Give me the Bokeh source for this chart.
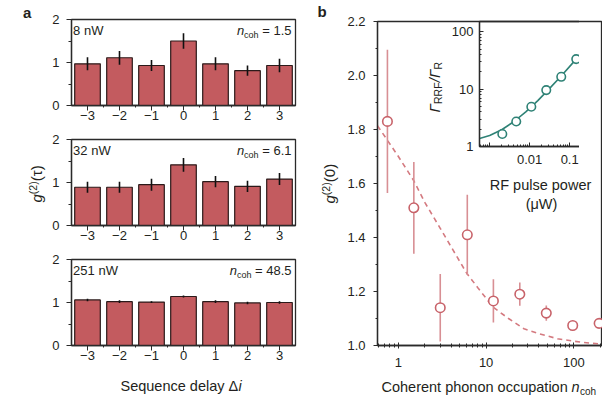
import numpy as np
from bokeh.plotting import figure
from bokeh.models import Range1d, FixedTicker, Label
from bokeh.layouts import row, column
from bokeh.embed import file_html
from bokeh.resources import INLINE

FONT = "Liberation Sans"
TXT = "#231f20"
AXC = "#2a2a2a"
BAR = "#c35b5f"

# ---------------- panel a data ----------------
delays = [-3, -2, -1, 0, 1, 2, 3]
delay_labels = ["\u22123", "\u22122", "\u22121", "0", "1", "2", "3"]
powers = ["8 nW", "32 nW", "251 nW"]
ncoh_texts = ["1.5", "6.1", "48.5"]
g2_8nW = [0.97, 1.11, 0.93, 1.50, 0.97, 0.81, 0.93]
err_8nW = [0.15, 0.16, 0.13, 0.18, 0.15, 0.12, 0.155]
g2_32nW = [0.89, 0.89, 0.95, 1.41, 1.02, 0.91, 1.08]
err_32nW = [0.13, 0.13, 0.14, 0.16, 0.13, 0.13, 0.14]
g2_251nW = [1.06, 1.02, 1.01, 1.14, 1.02, 0.99, 1.00]
err_251nW = [0.03, 0.03, 0.02, 0.025, 0.03, 0.03, 0.03]

# ---------------- panel b data ----------------
n_coh = [0.75, 1.5, 3.0, 6.1, 12.1, 24.2, 48.5, 97.0, 194.0]
g2_zero = [1.83, 1.51, 1.14, 1.41, 1.165, 1.19, 1.12, 1.074, 1.082]
g2_zero_err = [0.265, 0.17, 0.125, 0.148, 0.08, 0.043, 0.028, 0.018, 0.012]
theory_n = [0.578, 0.75, 1.0, 1.5, 2.0, 3.0, 4.0, 6.0, 8.0, 12.0, 18.0, 27.0, 40.0, 65.0, 100.0, 150.0, 212.0]
theory_g2 = [1.814, 1.76, 1.70, 1.61, 1.53, 1.434, 1.365, 1.268, 1.215, 1.142, 1.100, 1.062, 1.044, 1.025, 1.016, 1.009, 1.005]

# inset
rf_power = [0.00207, 0.00462, 0.0110, 0.0260, 0.0616, 0.146, 0.335]
rate_ratio = [1.65, 2.73, 4.92, 9.62, 16.4, 33.4, 55.4]
fit_power = [0.00056, 0.001, 0.002, 0.004, 0.008, 0.016, 0.032, 0.064, 0.128, 0.256, 0.5, 0.75]
fit_ratio = [1.38, 1.55, 1.96, 2.70, 4.01, 6.31, 10.4, 17.5, 30.2, 52.6, 90.3, 125.5]

CW = {" ": .278, "=": .584, ".": .278, "c": .5, "o": .556, "h": .556}


def tw(s, size):
    return sum(CW.get(ch, .556) for ch in s) * size


def lab(p, x, y, text, size="13px", style="normal", align="left", xo=0, yo=0, angle=0, color=TXT):
    p.add_layout(Label(x=x, y=y, text=text, text_font=FONT, text_font_size=size,
                       text_font_style=style, text_align=align, text_baseline="middle",
                       x_offset=xo, y_offset=yo, angle=angle, text_color=color))


def style_axis(ax, size="13px"):
    ax.axis_line_color = AXC
    ax.axis_line_width = 1.3
    ax.major_tick_line_color = AXC
    ax.minor_tick_line_color = AXC
    ax.major_label_text_font = FONT
    ax.major_label_text_font_size = size
    ax.major_label_text_color = TXT


def clear(p):
    p.xgrid.visible = False
    p.ygrid.visible = False
    p.border_fill_alpha = 0
    p.background_fill_alpha = 0
    p.outline_line_color = AXC
    p.outline_line_width = 1.3
    p.outline_line_alpha = 1


def bar_panel(vals, errs, power, ncoh, top_b, bot_b):
    p = figure(frame_width=224, frame_height=86, min_border_left=71, min_border_right=2,
               min_border_top=top_b, min_border_bottom=bot_b,
               x_range=Range1d(-3.5, 3.5), y_range=Range1d(0, 2),
               output_backend="svg", toolbar_location=None)
    clear(p)
    p.vbar(x=delays, top=vals, bottom=0, width=0.8, fill_color=BAR,
           line_color="#2b1a1a", line_width=1.2)
    v = np.array(vals)
    e = np.array(errs)
    p.segment(x0=delays, y0=v - e, x1=delays, y1=v + e, line_color="#111111", line_width=1.6)

    xa = p.xaxis[0]
    style_axis(xa)
    xa.ticker = FixedTicker(ticks=delays, minor_ticks=[-2.5, -1.5, -0.5, 0.5, 1.5, 2.5])
    xa.major_label_overrides = {d: t for d, t in zip(delays, delay_labels)}
    xa.major_tick_out = 5
    xa.major_tick_in = 0
    xa.minor_tick_out = 2
    xa.minor_tick_in = 0
    xa.major_label_standoff = 0

    ya = p.yaxis[0]
    style_axis(ya)
    ya.ticker = FixedTicker(ticks=[0, 1, 2], minor_ticks=[0.5, 1.5])
    ya.major_tick_out = 5
    ya.major_tick_in = 0
    ya.minor_tick_out = 3
    ya.minor_tick_in = 0
    ya.major_label_standoff = 7

    ty = 1.733
    lab(p, -3.45, ty, power)
    tail = "= " + ncoh
    w = tw(tail, 13) + 3.6
    lab(p, 3.375, ty, tail, align="right")
    lab(p, 3.375, ty, "coh", size="9px", align="right", xo=-w, yo=-4)
    lab(p, 3.375, ty, "n", size="13px", style="italic", align="right", xo=-(w + tw("coh", 9)))
    return p


pa1 = bar_panel(g2_8nW, err_8nW, powers[0], ncoh_texts[0], 19, 22)
pa2 = bar_panel(g2_32nW, err_32nW, powers[1], ncoh_texts[1], 12, 22)
pa3 = bar_panel(g2_251nW, err_251nW, powers[2], ncoh_texts[2], 12, 44)
col_a = column(pa1, pa2, pa3)

# ---------------- panel b main ----------------
pb = figure(frame_width=225, frame_height=324, min_border_left=80, min_border_right=0,
            min_border_top=21, min_border_bottom=52,
            x_axis_type="log", x_range=Range1d(0.578, 212), y_range=Range1d(1.0, 2.2),
            output_backend="svg", toolbar_location=None)
clear(pb)
pb.line(theory_n, theory_g2, line_color="#d47a80", line_width=1.6, line_dash="5 4")
gz = np.array(g2_zero)
ge = np.array(g2_zero_err)
pb.segment(x0=n_coh, y0=gz - ge, x1=n_coh, y1=gz + ge, line_color="#d88f94", line_width=1.6)
pb.scatter(n_coh, g2_zero, size=9.5, fill_color="white", line_color="#c8636a", line_width=1.6)

xb = pb.xaxis[0]
style_axis(xb)
xb.ticker = FixedTicker(ticks=[1, 10, 100],
                        minor_ticks=[0.6, 0.7, 0.8, 0.9, 2, 3, 4, 5, 6, 7, 8, 9,
                                     20, 30, 40, 50, 60, 70, 80, 90, 200])
xb.major_label_overrides = {1: "1", 10: "10", 100: "100"}
xb.major_tick_in = 3
xb.major_tick_out = 3
xb.minor_tick_in = 2
xb.minor_tick_out = 2
xb.major_label_standoff = 9

yb = pb.yaxis[0]
style_axis(yb)
yticks = [1.0, 1.2, 1.4, 1.6, 1.8, 2.0, 2.2]
yb.ticker = FixedTicker(ticks=yticks, minor_ticks=[1.1, 1.3, 1.5, 1.7, 1.9, 2.1])
yb.major_label_overrides = {t: "%.1f" % t for t in yticks}
yb.major_tick_out = 4
yb.major_tick_in = 0
yb.minor_tick_out = 2
yb.minor_tick_in = 0
yb.major_label_standoff = 8

# ---------------- inset ----------------
TEAL = "#2f8276"
pi_ = figure(frame_width=125, frame_height=125, min_border_left=55, min_border_right=0,
             min_border_top=20, min_border_bottom=60,
             x_axis_type="log", y_axis_type="log",
             x_range=Range1d(0.000557, 0.743), y_range=Range1d(1, 151),
             output_backend="svg", toolbar_location=None)
clear(pi_)
pi_.background_fill_alpha = 1
pi_.background_fill_color = "white"
pi_.line(fit_power, fit_ratio, line_color=TEAL, line_width=1.6)
pi_.scatter(rf_power, rate_ratio, size=8.5, fill_color="white", line_color=TEAL, line_width=1.6)

xi = pi_.xaxis[0]
style_axis(xi)
xi.ticker = FixedTicker(ticks=[0.001, 0.01, 0.1],
                        minor_ticks=[0.0006, 0.0007, 0.0008, 0.0009,
                                     0.002, 0.003, 0.004, 0.005, 0.006, 0.007, 0.008, 0.009,
                                     0.02, 0.03, 0.04, 0.05, 0.06, 0.07, 0.08, 0.09,
                                     0.2, 0.3, 0.4, 0.5, 0.6, 0.7])
xi.major_label_overrides = {0.001: "", 0.01: "0.01", 0.1: "0.1"}
xi.major_tick_in = 4
xi.major_tick_out = 0
xi.minor_tick_in = 2
xi.minor_tick_out = 0
xi.major_label_standoff = 8

yi = pi_.yaxis[0]
style_axis(yi)
yi.ticker = FixedTicker(ticks=[1, 10, 100],
                        minor_ticks=[2, 3, 4, 5, 6, 7, 8, 9, 20, 30, 40, 50, 60, 70, 80, 90])
yi.major_label_overrides = {1: "1", 10: "10", 100: "100"}
yi.major_tick_in = 4
yi.major_tick_out = 0
yi.minor_tick_in = 2
yi.minor_tick_out = 0
yi.major_label_standoff = 6

pi_.margin = (1, 0, 0, 102)
pb.margin = (-206, 0, 0, 0)
col_b = column(pi_, pb)
main_row = row(col_a, col_b)

# ---------------- text layer (pixel coordinates, top-left origin) ----------------
ov = figure(width=602, height=397, min_border=0, x_range=Range1d(0, 602), y_range=Range1d(397, 0),
            x_axis_location=None, y_axis_location=None, title=None,
            output_backend="svg", toolbar_location=None)
ov.xgrid.visible = False
ov.ygrid.visible = False
ov.outline_line_alpha = 0
ov.background_fill_alpha = 0
ov.border_fill_alpha = 0

rot = np.pi / 2
lab(ov, 22.5, 11.5, "a", size="15px", style="bold")
lab(ov, 317, 11, "b", size="15px", style="bold")

# panel a y label: g^(2)(tau)
lab(ov, 36, 202, "g", size="15px", style="italic", angle=rot)
lab(ov, 36, 202, "(2)", size="10.5px", angle=rot, xo=-3.5, yo=8.3)
lab(ov, 36, 202, "(\u03c4)", size="15px", angle=rot, yo=21.3)

# panel b y label: g^(2)(0)
lab(ov, 329, 203, "g", size="15px", style="italic", angle=rot)
lab(ov, 329, 203, "(2)", size="10.5px", angle=rot, xo=-3.5, yo=8.3)
lab(ov, 329, 203, "(0)", size="15px", angle=rot, yo=21.3)

# panel a x label
lab(ov, 120, 385.5, "Sequence delay \u0394", size="14.5px")
lab(ov, 120, 385.5, "i", size="14.5px", style="italic", xo=118)

# panel b x label
lab(ov, 381, 386.5, "Coherent phonon occupation", size="14.5px")
lab(ov, 381, 386.5, "n", size="14.5px", style="italic", xo=190)
lab(ov, 381, 386.5, "coh", size="10px", xo=198.5, yo=-4.5)

# inset labels
lab(ov, 540, 184.5, "RF pulse power", size="14.5px", align="center")
lab(ov, 541, 203.3, "(\u03bcW)", size="14.5px", align="center")
lab(ov, 433.5, 112, "\u0393", size="15px", style="italic", angle=rot)
lab(ov, 433.5, 112, "RRF", size="10.5px", angle=rot, xo=4.4, yo=8.5)
lab(ov, 433.5, 112, "/\u0393", size="15px", style="italic", angle=rot, yo=30.3)
lab(ov, 433.5, 112, "R", size="10.5px", angle=rot, xo=4.4, yo=43)

main_row.margin = (-397, 0, 0, 0)
layout = column(ov, main_row)
open("out.html", "w").write(file_html(layout, INLINE))
